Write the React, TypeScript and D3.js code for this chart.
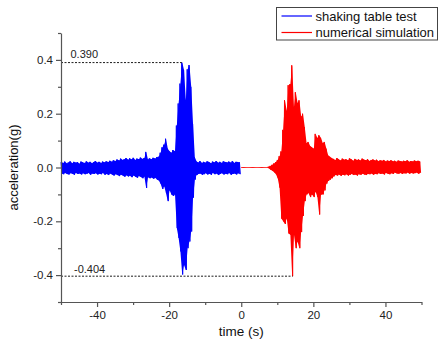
import React, { useEffect, useRef } from 'react';
import * as d3 from 'd3';

const WIDTH = 438;
const HEIGHT = 346;

const SAMPLE_STEP = 0.5;
const blueStart = -50;
const redStart = 0;

const blueUpper = [
  20, 17, 22, 15, 19, 23, 16, 21, 18, 20,
  14, 22, 19, 17, 23, 18, 21, 16, 20, 24,
  18, 21, 17, 22, 19, 23, 20, 25, 21, 27,
  24, 30, 26, 33, 28, 31, 35, 29, 34, 30,
  36, 28, 33, 31, 37, 32, 35, 58, 30, 34,
  31, 36, 33, 38, 40, 55, 75, 85, 107, 70,
  60, 55, 65, 60, 156, 238, 312, 390, 362, 250,
  365, 381, 300, 162, 38, 22, 19, 24, 17, 21,
  18, 23, 20, 16, 22, 19, 24, 18, 21, 17,
  23, 20, 19, 22, 18, 24, 17, 21, 20, 19
];
const blueLower = [
  -22, -25, -20, -24, -26, -21, -23, -27, -20, -24,
  -22, -26, -21, -25, -23, -20, -27, -22, -24, -21,
  -26, -23, -25, -20, -27, -24, -28, -22, -26, -30,
  -25, -28, -32, -27, -30, -34, -29, -33, -31, -36,
  -30, -34, -38, -32, -35, -40, -33, -76, -36, -40,
  -37, -42, -38, -45, -48, -60, -80, -70, -95, -125,
  -85, -100, -106, -100, -225, -262, -312, -398, -362, -381,
  -300, -275, -238, -112, -45, -28, -24, -22, -27, -25,
  -21, -26, -23, -27, -20, -25, -22, -28, -24, -21,
  -26, -23, -25, -20, -27, -24, -22, -26, -21, -25
];

const redUpper = [
  0, 0, 0, 0, 0, 0, 0, 0, 0, 0,
  0, 0, 0, 0, 0, 3, 6, 10, 15, 20,
  28, 42, 60, 140, 250, 210, 306, 310, 380, 225,
  280, 240, 250, 190, 200, 150, 90, 95, 80, 75,
  70, 125, 110, 120, 110, 90, 95, 70, 45, 40,
  35, 32, 28, 35, 30, 26, 33, 29, 31, 27,
  34, 30, 25, 32, 28, 30, 26, 33, 29, 27,
  31, 24, 28, 30, 26, 29, 23, 27, 25, 28,
  22, 26, 24, 27, 23, 25, 21, 26, 24, 22,
  25, 23, 27, 21, 24, 22, 26, 23, 25, 22
];
const redLower = [
  0, 0, 0, 0, 0, 0, 0, 0, 0, 0,
  0, 0, 0, 0, 0, -3, -8, -12, -18, -25,
  -40, -75, -190, -200, -210, -190, -245, -250, -404, -250,
  -300, -275, -300, -240, -180, -125, -100, -95, -110, -100,
  -110, -90, -110, -175, -100, -100, -85, -60, -50, -45,
  -40, -33, -28, -30, -26, -31, -27, -29, -25, -30,
  -27, -24, -28, -26, -30, -25, -27, -23, -26, -28,
  -24, -25, -22, -27, -23, -25, -21, -24, -22, -26,
  -20, -23, -25, -21, -24, -19, -22, -23, -20, -24,
  -21, -22, -19, -23, -20, -22, -21, -19, -23, -20
];

const seriesNames = ['shaking table test', 'numerical simulation'];
const seriesColors = ['#0000ff', '#ff0000'];

const xMajorTicks = [-40, -20, 0, 20, 40];
const xMinorTicks = [-50, -30, -10, 10, 30, 50];
const yMajorTicks = [-0.4, -0.2, 0, 0.2, 0.4];
const yMinorTicks = [-0.5, -0.3, -0.1, 0.1, 0.3, 0.5];

const FONT = 'Liberation Sans, Arial, sans-serif';
const AXIS_COLOR = '#555';

const toPoints = (start: number, upper: number[], lower: number[]) =>
  upper.flatMap((u, i) => [
    [start + i * SAMPLE_STEP, u / 1000],
    [start + (i + 0.5) * SAMPLE_STEP, lower[i] / 1000]
  ] as [number, number][]);

const Chart = () => {
  const svgRef = useRef<SVGSVGElement>(null);

  useEffect(() => {
    const svg = d3.select(svgRef.current);
    svg.selectAll('*').remove();

    const x = d3.scaleLinear().domain([-50, 50]).range([61, 421.5]);
    const y = d3.scaleLinear().domain([-0.5, 0.5]).range([302, 33]);

    const series = [
      { start: blueStart, upper: blueUpper, lower: blueLower },
      { start: redStart, upper: redUpper, lower: redLower }
    ];

    const line = d3.line<[number, number]>()
      .x(d => x(d[0]))
      .y(d => y(d[1]));

    // dense signal: band between the peaks, then the zig-zag on top for the spikes
    const pointSets = series.map((s, i) => {
      const area = d3.area<number>()
        .x((_, k) => x(s.start + k * SAMPLE_STEP + SAMPLE_STEP / 4))
        .y0((_, k) => y(s.lower[k] / 1000))
        .y1(u => y(u / 1000));
      svg.append('path')
        .datum(s.upper)
        .attr('d', area)
        .attr('fill', seriesColors[i]);

      const pts = toPoints(s.start, s.upper, s.lower);
      svg.append('path')
        .datum(pts)
        .attr('d', line)
        .attr('fill', 'none')
        .attr('stroke', seriesColors[i])
        .attr('stroke-width', 1);
      return pts;
    });

    // peak annotations
    const blueMax = d3.greatest(pointSets[0], d => d[1])!;
    const redMin = d3.least(pointSets[1], d => d[1])!;
    const notes = [
      { p: blueMax, label: blueMax[1].toFixed(3), dx: 9.5, dy: -4.5 },
      { p: redMin, label: redMin[1].toFixed(3), dx: 13, dy: -3 }
    ];
    notes.forEach(n => {
      svg.append('line')
        .attr('x1', x(-50)).attr('x2', x(n.p[0]))
        .attr('y1', y(n.p[1])).attr('y2', y(n.p[1]))
        .attr('stroke', '#000')
        .attr('stroke-width', 0.9)
        .attr('stroke-dasharray', '2,1.5');
      svg.append('text')
        .attr('x', x(-50) + n.dx)
        .attr('y', y(n.p[1]) + n.dy)
        .style('font-family', FONT)
        .style('font-size', '11px')
        .style('fill', '#222')
        .text(n.label);
    });

    // axes
    const styleAxis = (g: any) => {
      g.select('.domain').attr('stroke', AXIS_COLOR).attr('stroke-width', 1.2);
      g.selectAll('.tick line').attr('stroke', AXIS_COLOR).attr('stroke-width', 1.2);
      g.selectAll('.tick text')
        .style('font-family', FONT)
        .style('font-size', '11.5px')
        .attr('fill', '#222');
    };

    const xAxis = svg.append('g')
      .attr('transform', 'translate(0,302)')
      .call(d3.axisBottom(x).tickValues(xMajorTicks).tickSize(5).tickSizeOuter(0)
        .tickPadding(4).tickFormat(d => String(d)));
    styleAxis(xAxis);
    const xMinor = svg.append('g')
      .attr('transform', 'translate(0,302)')
      .call(d3.axisBottom(x).tickValues(xMinorTicks).tickSize(3).tickFormat(() => ''));
    xMinor.select('.domain').remove();
    styleAxis(xMinor);

    const yAxis = svg.append('g')
      .attr('transform', 'translate(61,0)')
      .call(d3.axisLeft(y).tickValues(yMajorTicks).tickSize(5).tickSizeOuter(0)
        .tickPadding(3).tickFormat(d => (+d).toFixed(1)));
    styleAxis(yAxis);
    const yMinor = svg.append('g')
      .attr('transform', 'translate(61,0)')
      .call(d3.axisLeft(y).tickValues(yMinorTicks).tickSize(3).tickFormat(() => ''));
    yMinor.select('.domain').remove();
    styleAxis(yMinor);

    // axis titles
    svg.append('text')
      .attr('x', x(0))
      .attr('y', 336)
      .attr('text-anchor', 'middle')
      .style('font-family', FONT)
      .style('font-size', '13.5px')
      .style('fill', '#111')
      .text('time (s)');

    svg.append('text')
      .attr('transform', `translate(18,${y(0)}) rotate(-90)`)
      .attr('text-anchor', 'middle')
      .style('font-family', FONT)
      .style('font-size', '13px')
      .style('fill', '#111')
      .text('acceleration(g)');

    // legend
    const legend = svg.append('g');
    legend.append('rect')
      .attr('x', 276.5).attr('y', 7.5)
      .attr('width', 161).attr('height', 32.5)
      .attr('fill', '#fff')
      .attr('stroke', '#444')
      .attr('stroke-width', 1);
    seriesNames.forEach((name, i) => {
      const ly = 16 + i * 16.5;
      legend.append('line')
        .attr('x1', 281.5).attr('x2', 312)
        .attr('y1', ly).attr('y2', ly)
        .attr('stroke', seriesColors[i])
        .attr('stroke-width', 1.2);
      legend.append('text')
        .attr('x', 315.5)
        .attr('y', ly + 4.6)
        .style('font-family', FONT)
        .style('font-size', '13px')
        .style('fill', '#111')
        .text(name);
    });
  }, []);

  return (
    <svg
      ref={svgRef}
      width={WIDTH}
      height={HEIGHT}
      style={{ position: 'absolute', left: 0, top: 0, background: '#fff' }}
    />
  );
};

export default function App() {
  return <Chart />;
}
